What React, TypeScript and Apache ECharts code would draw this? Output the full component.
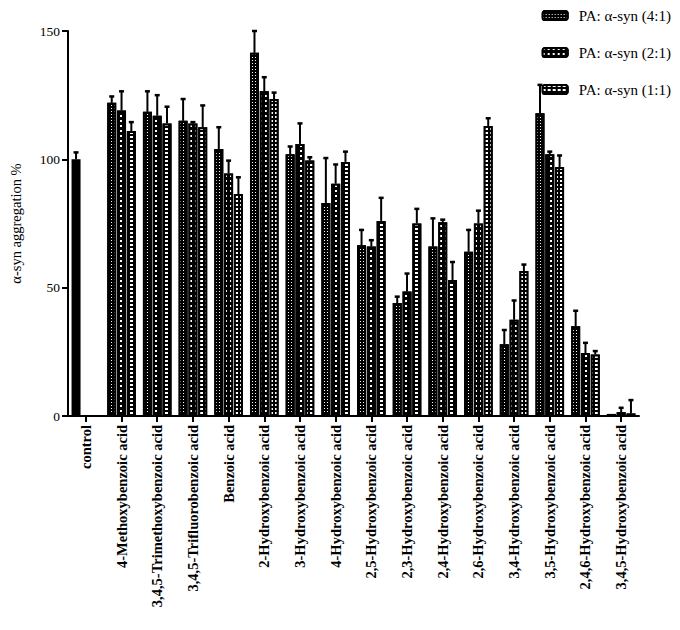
import React, { useEffect, useRef } from "react";
import * as echarts from "echarts";

const categories = [
  "control",
  "4-Methoxybenzoic acid",
  "3,4,5-Trimethoxybenzoic acid",
  "3,4,5-Trifluorobenzoic acid",
  "Benzoic acid",
  "2-Hydroxybenzoic acid",
  "3-Hydroxybenzoic acid",
  "4-Hydroxybenzoic acid",
  "2,5-Hydroxybenzoic acid",
  "2,3-Hydroxybenzoic acid",
  "2,4-Hydroxybenzoic acid",
  "2,6-Hydroxybenzoic acid",
  "3,4-Hydroxybenzoic acid",
  "3,5-Hydroxybenzoic acid",
  "2,4,6-Hydroxybenzoic acid",
  "3,4,5-Hydroxybenzoic acid",
];

const seriesNames = ["PA: α-syn (4:1)", "PA: α-syn (2:1)", "PA: α-syn (1:1)"];

const ratio41 = [100, 122, 118.5, 115, 104, 141.5, 102, 83, 66.5, 44, 66, 64, 28, 118, 35, 0.8];
const err41 = [2.7, 2.5, 8, 8.5, 8.5, 8.5, 3, 17.5, 6, 2.5, 11, 8.5, 5.5, 11, 6, 0];
const ratio21 = [null, 119, 117, 114, 94.5, 126.5, 106, 90.5, 66, 48.5, 75.5, 75, 37.5, 102, 24.5, 1.5];
const err21 = [null, 7.5, 8, 0.5, 5, 5.5, 8, 7.5, 2.5, 7, 1, 5, 7.5, 1, 4, 1.7];
const ratio11 = [null, 111, 114, 112.5, 86.5, 123.5, 99.5, 99, 76, 75, 53, 113, 56.5, 97, 24, 1];
const err11 = [null, 3.5, 6.5, 8.5, 6.5, 2.5, 1.3, 4, 9, 5.7, 7, 3, 2.5, 4.5, 1.3, 5.2];

const yTicks = [0, 50, 100, 150];

const SERIF = "'Liberation Serif', 'Times New Roman', serif";

export default function App() {
  const ref = useRef<HTMLDivElement>(null);

  useEffect(() => {
    if (!ref.current) return;
    const chart = echarts.init(ref.current, null, { renderer: "svg" });

    const BAR_W = 9;
    const GAP = 0.8;
    const offsets = [-(BAR_W + GAP), 0, BAR_W + GAP];

    const decals = [
      { symbol: "rect", symbolSize: 1, color: "#fff", dashArrayX: [1, 1.6], dashArrayY: [1, 1.4] },
      { symbol: "rect", symbolSize: 1, color: "#fff", dashArrayX: [1.8, 2.6], dashArrayY: [1.6, 2.4] },
      { symbol: "rect", symbolSize: 1, color: "#fff", dashArrayX: [3, 1.8], dashArrayY: [1.1, 2] },
    ];

    const values = [ratio41, ratio21, ratio11];
    const errs = [err41, err21, err11];

    const barSeries = values.map((arr, si) => ({
      type: "bar",
      name: seriesNames[si],
      barWidth: BAR_W,
      barGap: (GAP / BAR_W) * 100 + "%",
      itemStyle: {
        color: "#000",
        borderColor: "#000",
        borderWidth: 2,
        decal: decals[si],
      },
      data: arr.map((v, i) =>
        v === null
          ? "-"
          : si === 0 && i === 0
          ? { value: v, itemStyle: { color: "#000", decal: "none" } }
          : v
      ),
      z: 2,
    }));

    const errSeries = values.map((arr, si) => ({
      type: "custom",
      name: "err" + si,
      z: 3,
      clip: false,
      data: arr
        .map((v, i) => (v === null ? null : [i, v, v + (errs[si][i] as number)]))
        .filter((d) => d !== null),
      encode: { x: 0, y: 1 },
      renderItem: (params: any, api: any) => {
        const idx = api.value(0);
        const top = api.value(1);
        const e = api.value(2);
        if (e - top <= 0.01) return null;
        const p = api.coord([idx, top]);
        const pe = api.coord([idx, e]);
        const x = p[0] + offsets[si];
        return {
          type: "group",
          children: [
            {
              type: "line",
              shape: { x1: x, y1: p[1], x2: x, y2: pe[1] },
              style: { stroke: "#000", lineWidth: 2 },
            },
            {
              type: "line",
              shape: { x1: x - 2.5, y1: pe[1], x2: x + 2.5, y2: pe[1] },
              style: { stroke: "#000", lineWidth: 2.5 },
            },
          ],
        };
      },
    }));

    chart.setOption({
      animation: false,
      backgroundColor: "#fff",
      textStyle: { fontFamily: SERIF, color: "#000" },
      grid: { left: 60, right: 41, top: 31, bottom: 214, containLabel: false },
      legend: {
        data: seriesNames,
        orient: "vertical",
        right: 4,
        top: 3,
        itemWidth: 25,
        itemHeight: 9,
        itemGap: 22,
        textStyle: { fontFamily: SERIF, fontSize: 15, color: "#000", padding: [0, 0, 0, 6] },
      },
      xAxis: {
        type: "category",
        data: categories,
        axisLine: { show: true, lineStyle: { color: "#000", width: 2 } },
        axisTick: { show: true, alignWithLabel: true, length: 6, lineStyle: { color: "#000", width: 2 } },
        axisLabel: {
          rotate: 90,
          interval: 0,
          margin: 9,
          fontFamily: SERIF,
          fontWeight: "bold",
          fontSize: 14.5,
          color: "#000",
        },
        splitLine: { show: false },
      },
      yAxis: {
        type: "value",
        min: yTicks[0],
        max: yTicks[yTicks.length - 1],
        interval: 50,
        name: "α-syn aggregation %",
        nameLocation: "middle",
        nameGap: 45,
        nameTextStyle: { fontFamily: SERIF, fontSize: 14.5, color: "#000" },
        axisLine: { show: true, lineStyle: { color: "#000", width: 2 } },
        axisTick: { show: true, length: 6, lineStyle: { color: "#000", width: 2 } },
        axisLabel: { margin: 8, fontFamily: SERIF, fontSize: 13.5, color: "#000" },
        splitLine: { show: false },
      },
      series: [...barSeries, ...errSeries],
    });

    return () => chart.dispose();
  }, []);

  return <div ref={ref} style={{ width: 680, height: 630, margin: -8 }} />;
}
